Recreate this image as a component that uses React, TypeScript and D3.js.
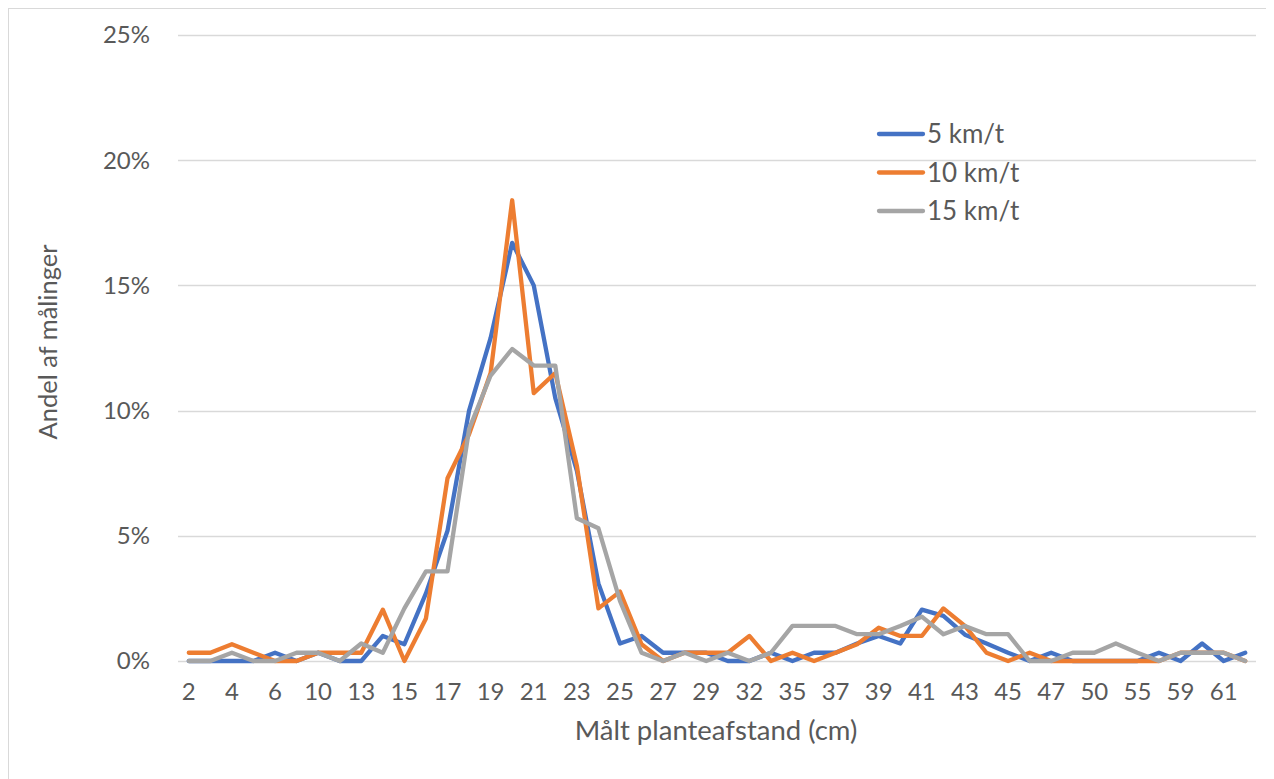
import React, { useEffect, useRef } from "react";
import * as d3 from "d3";

// Målt planteafstand (cm) - one category per measured distance
const categories = [
  "2", "3", "4", "5", "6", "8", "10", "12", "13", "14",
  "15", "16", "17", "18", "19", "20", "21", "22", "23", "24",
  "25", "26", "27", "28", "29", "31", "32", "34", "35", "36",
  "37", "38", "39", "40", "41", "42", "43", "44", "45", "46",
  "47", "49", "50", "53", "55", "57", "59", "60", "61", "62"
];

// andel af målinger, in percent
const speed5 = [
  0, 0, 0, 0, 0.33, 0, 0.33, 0, 0, 1.0,
  0.67, 2.7, 5.2, 10.0, 12.9, 16.7, 15.0, 10.5, 7.6, 3.1,
  0.7, 1.0, 0.33, 0.33, 0.33, 0, 0, 0.33, 0, 0.33,
  0.33, 0.7, 1.0, 0.7, 2.05, 1.8, 1.05, 0.7, 0.33, 0,
  0.33, 0, 0, 0, 0, 0.33, 0, 0.7, 0, 0.33
];

const speed10 = [
  0.33, 0.33, 0.67, 0.33, 0, 0, 0.33, 0.33, 0.33, 2.05,
  0, 1.7, 7.3, 9.05, 11.5, 18.4, 10.7, 11.5, 7.8, 2.1,
  2.77, 0.67, 0, 0.33, 0.33, 0.33, 1.0, 0, 0.33, 0,
  0.33, 0.67, 1.33, 1.0, 1.0, 2.1, 1.4, 0.33, 0, 0.33,
  0, 0, 0, 0, 0, 0, 0.33, 0.33, 0.33, 0
];

const speed15 = [
  0, 0, 0.33, 0, 0, 0.33, 0.33, 0, 0.7, 0.33,
  2.1, 3.58, 3.58, 9.26, 11.4, 12.46, 11.8, 11.8, 5.7, 5.3,
  2.4, 0.33, 0, 0.33, 0, 0.33, 0, 0.33, 1.4, 1.4,
  1.4, 1.07, 1.07, 1.4, 1.77, 1.07, 1.4, 1.07, 1.07, 0,
  0, 0.33, 0.33, 0.7, 0.33, 0, 0.33, 0.33, 0.33, 0
];

const seriesNames = ["5 km/t", "10 km/t", "15 km/t"];
const seriesColors = ["#4472C4", "#ED7D31", "#A5A5A5"];
const yTicks = [0, 5, 10, 15, 20, 25];

const FONT = "Lato, 'Open Sans', sans-serif";
const TEXT = "#595959";

export default function App() {
  const ref = useRef<SVGSVGElement>(null);

  useEffect(() => {
    const svg = d3.select(ref.current);
    svg.selectAll("*").remove();

    const width = 1266;
    const height = 771;
    const plot = { left: 170, right: 1248, top: 27, bottom: 653 };

    // chart border (only top/left fall inside the window)
    svg.append("rect")
      .attr("x", 0.5)
      .attr("y", 0.5)
      .attr("width", width + 20)
      .attr("height", height + 20)
      .attr("fill", "#fff")
      .attr("stroke", "#d9d9d9")
      .attr("stroke-width", 1);

    const x = d3.scaleBand<string>()
      .domain(categories)
      .range([plot.left, plot.right])
      .padding(0);
    const cx = (c: string) => (x(c) as number) + x.bandwidth() / 2;

    const y = d3.scaleLinear()
      .domain([0, 25])
      .range([plot.bottom, plot.top]);

    // gridlines
    svg.append("g")
      .selectAll("line")
      .data(yTicks)
      .enter()
      .append("line")
      .attr("x1", plot.left)
      .attr("x2", plot.right)
      .attr("y1", d => Math.round(y(d)) + 0.5)
      .attr("y2", d => Math.round(y(d)) + 0.5)
      .attr("stroke", "#d9d9d9")
      .attr("stroke-width", 1.5);

    // y tick labels
    svg.append("g")
      .selectAll("text")
      .data(yTicks)
      .enter()
      .append("text")
      .attr("x", 142)
      .attr("y", d => y(d))
      .attr("dy", "0.35em")
      .attr("text-anchor", "end")
      .attr("font-family", FONT)
      .attr("font-size", 24)
      .attr("fill", TEXT)
      .text(d => d3.format(".0%")(d / 100));

    // x tick labels, every second category
    svg.append("g")
      .selectAll("text")
      .data(categories.filter((c, i) => i % 2 === 0))
      .enter()
      .append("text")
      .attr("x", d => cx(d))
      .attr("y", 684)
      .attr("dy", "0.35em")
      .attr("text-anchor", "middle")
      .attr("font-family", FONT)
      .attr("font-size", 24)
      .attr("fill", TEXT)
      .text(d => d);

    // lines
    const allSeries = [speed5, speed10, speed15];
    const line = d3.line<number>()
      .x((d, i) => cx(categories[i]))
      .y(d => y(d));

    svg.append("g")
      .selectAll("path")
      .data(allSeries)
      .enter()
      .append("path")
      .attr("d", d => line(d))
      .attr("fill", "none")
      .attr("stroke", (d, i) => seriesColors[i])
      .attr("stroke-width", 4.3)
      .attr("stroke-linejoin", "round")
      .attr("stroke-linecap", "round");

    // axis titles
    svg.append("text")
      .attr("x", 708)
      .attr("y", 722)
      .attr("dy", "0.35em")
      .attr("text-anchor", "middle")
      .attr("font-family", FONT)
      .attr("font-size", 27.5)
      .attr("fill", TEXT)
      .text("Målt planteafstand (cm)");

    svg.append("text")
      .attr("transform", "translate(40, 334) rotate(-90)")
      .attr("dy", "0.35em")
      .attr("text-anchor", "middle")
      .attr("font-family", FONT)
      .attr("font-size", 25.5)
      .attr("fill", TEXT)
      .text("Andel af målinger");

    // legend
    const legend = svg.append("g")
      .selectAll("g")
      .data(seriesNames)
      .enter()
      .append("g")
      .attr("transform", (d, i) => `translate(871, ${126 + i * 38.5})`);

    legend.append("line")
      .attr("x1", 0)
      .attr("x2", 44)
      .attr("stroke", (d, i) => seriesColors[i])
      .attr("stroke-width", 4.3)
      .attr("stroke-linecap", "round");

    legend.append("text")
      .attr("x", 48)
      .attr("dy", "0.35em")
      .attr("font-family", FONT)
      .attr("font-size", 26)
      .attr("fill", TEXT)
      .text(d => d);
  }, []);

  return (
    <svg ref={ref} width={1266} height={771} style={{ display: "block" }} />
  );
}
